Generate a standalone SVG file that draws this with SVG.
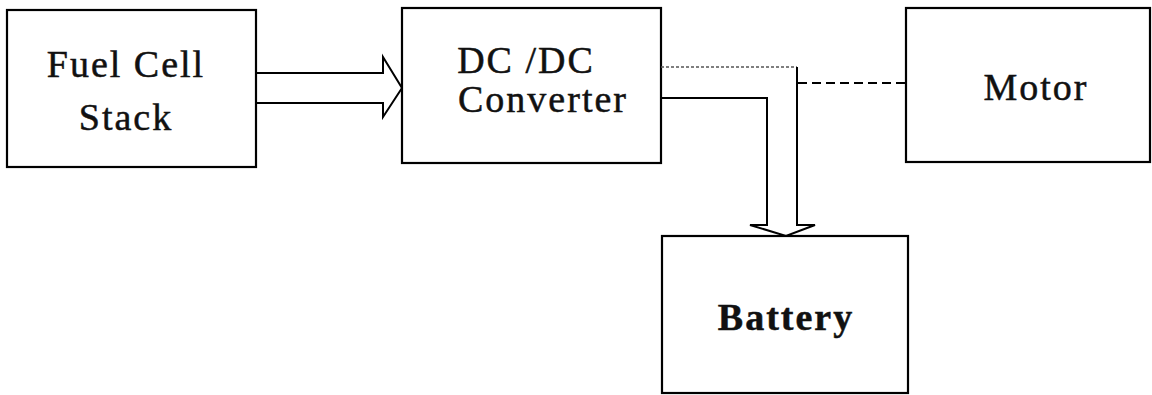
<svg xmlns="http://www.w3.org/2000/svg" width="1152" height="395" viewBox="0 0 1152 395">
<style>
.box{fill:none;stroke:#000;stroke-width:2.2}
.lbl{font-family:"Liberation Serif","Times New Roman",serif;font-size:38px;letter-spacing:2px;fill:#111;stroke:#111;stroke-width:0.5;text-anchor:middle}
.bold{font-weight:bold}
.ln{fill:none;stroke:#000;stroke-width:2}
.dot{fill:none;stroke:#555;stroke-width:1.3;stroke-dasharray:3 2}
.dash{fill:none;stroke:#000;stroke-width:2.2;stroke-dasharray:9 5}
</style>
<rect width="1152" height="395" fill="#fff"/>
<g id="fuel-cell-stack">
<rect class="box" x="7" y="10" width="249" height="157"/>
<text class="lbl" x="126" y="77">Fuel Cell</text>
<text class="lbl" x="126" y="130">Stack</text>
</g>
<g id="dcdc-converter">
<rect class="box" x="402" y="8" width="259" height="155"/>
<text class="lbl" x="526" y="73">DC /DC</text>
<text class="lbl" x="543" y="112">Converter</text>
</g>
<g id="motor">
<rect class="box" x="906" y="8" width="244" height="154"/>
<text class="lbl" x="1036" y="100">Motor</text>
</g>
<g id="battery">
<rect class="box" x="662" y="236" width="246" height="157"/>
<text class="lbl bold" x="786" y="330">Battery</text>
</g>
<g id="connectors">
<path class="ln" d="M256 73 H383 V57 L402 88 L383 117 V103 H256"/>
<path class="dot" d="M661 67 H797"/>
<path class="ln" d="M797 67 V225 H815 L786 236 L750 225 H767 V98 H661"/>
<path class="dash" d="M798 83 H905"/>
</g>
</svg>
